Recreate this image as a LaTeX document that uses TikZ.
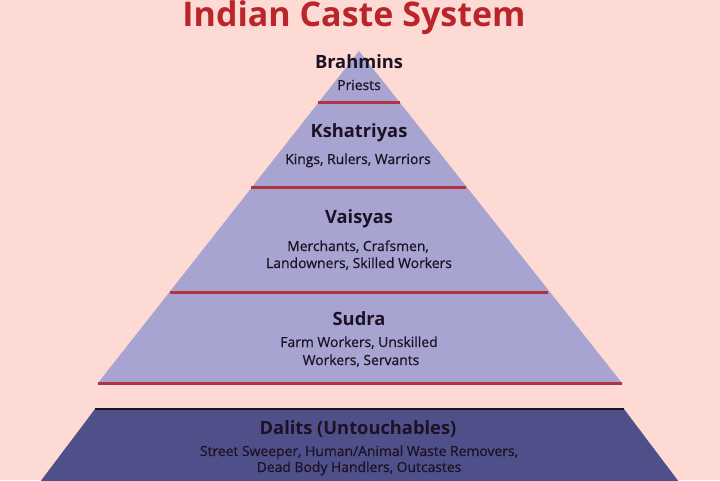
\documentclass[tikz,border=0pt]{standalone}
\usepackage{fontspec}
\setmainfont{Open Sans}
\newfontfamily\subfont[FakeBold=0.7]{Open Sans}
\definecolor{bg}{RGB}{253,218,211}
\definecolor{lav}{RGB}{168,164,209}
\definecolor{dalit}{RGB}{79,80,138}
\definecolor{redline}{RGB}{178,52,66}
\definecolor{titlered}{RGB}{184,38,44}
\definecolor{ink}{RGB}{28,18,36}
\tikzset{
  head/.style={anchor=base, font=\bfseries\fontsize{18.3}{20}\selectfont, text=ink, inner sep=0pt},
  sub/.style={anchor=base, font=\subfont\fontsize{13.9}{15}\selectfont, text=ink, inner sep=0pt},
  sep/.style={draw=redline, line width=3pt},
}
\begin{document}
\begin{tikzpicture}[x=1pt,y=-1pt]
\fill[bg] (0,0) rectangle (720,480);
\useasboundingbox (0,0) rectangle (720,480);
% upper pyramid
\fill[lav] (359,51) -- (622,383) -- (98,383) -- cycle;
\coordinate (l1a) at (318,102); \coordinate (l1b) at (400,102);
\coordinate (l2a) at (251,187); \coordinate (l2b) at (466,187);
\coordinate (l3a) at (170,292); \coordinate (l3b) at (548,292);
\coordinate (l4a) at (98,383);  \coordinate (l4b) at (622,383);
\draw[sep] (l1a) -- (l1b);
\draw[sep] (l2a) -- (l2b);
\draw[sep] (l3a) -- (l3b);
\draw[sep] (l4a) -- (l4b);
% bottom band
\fill[dalit] (95,409) -- (624,409) -- (679,482) -- (40,482) -- cycle;
\coordinate (d1) at (95,409); \coordinate (d2) at (624,409);
\draw[draw=ink, line width=2pt] (d1) -- (d2);
% title
\node[anchor=base, inner sep=0pt, text=titlered, font=\bfseries\fontsize{34}{37}\selectfont] (title) at (354,26) {Indian Caste System};
% labels
\node[head] (brah) at (359,68) {Brahmins};
\node[sub] (brahs) at (359,90) {Priests};
\node[head] (ksha) at (359,137) {Kshatriyas};
\node[sub] (kshas) at (358,164) {Kings, Rulers, Warriors};
\node[head] (vais) at (359,223) {Vaisyas};
\node[sub] (vais1) at (358,251) {Merchants, Crafsmen,};
\node[sub] (vais2) at (359,268) {Landowners, Skilled Workers};
\node[head] (sud) at (359,325) {Sudra};
\node[sub] (sud1) at (359,347) {Farm Workers, Unskilled};
\node[sub] (sud2) at (361,365) {Workers, Servants};
\node[head] (dal) at (358,434) {Dalits (Untouchables)};
\node[sub] (dal1) at (359,456) {Street Sweeper, Human/Animal Waste Removers,};
\node[sub] (dal2) at (359,472) {Dead Body Handlers, Outcastes};
\end{tikzpicture}
\end{document}
